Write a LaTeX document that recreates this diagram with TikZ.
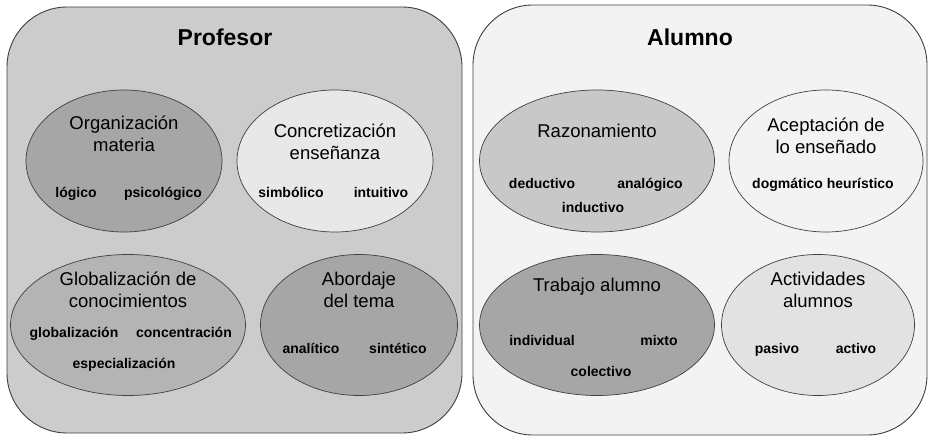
\documentclass[tikz,border=0pt]{standalone}
\usepackage{fontspec}
\setmainfont{Liberation Sans}
\usetikzlibrary{shapes.geometric}

\definecolor{boxdark}{HTML}{CCCCCC}
\definecolor{boxlight}{HTML}{F3F3F3}
\definecolor{greyA}{HTML}{A6A6A6}
\definecolor{greyB}{HTML}{B4B4B4}
\definecolor{greyC}{HTML}{C8C8C8}
\definecolor{greyD}{HTML}{E2E2E2}
\definecolor{greyE}{HTML}{E8E8E8}
\definecolor{rim}{HTML}{404040}

\begin{document}
\begin{tikzpicture}[x=1pt, y=-1pt,
  panel/.style={draw=rim, line width=0.9pt, rounded corners=60pt},
  blob/.style={ellipse, draw=rim, line width=0.7pt, inner sep=0pt},
  head/.style={font=\fontsize{23}{28}\selectfont\bfseries},
  topic/.style={align=center, font=\fontsize{18.5}{22}\selectfont},
  item/.style={font=\fontsize{14}{16}\selectfont\bfseries, text height=10.5pt, text depth=3pt}]

\useasboundingbox (0,0) rectangle (928,438);

\draw[panel, fill=boxdark] (7,7) rectangle (462,433);
\draw[panel, fill=boxlight] (473,5) rectangle (927,435);

\node[head] (prof) at (225,37) {Profesor};
\node[head] (alum) at (690,37) {Alumno};

% Profesor
\node[blob, fill=greyA, minimum width=196pt, minimum height=142pt] (org) at (124,161) {};
\node[topic] (orgT) at (124,134) {Organización\\materia};
\node[item] (orgA) at (76,194) {lógico};
\node[item] (orgB) at (163,194) {psicológico};

\node[blob, fill=greyE, minimum width=196pt, minimum height=142pt] (con) at (335,161) {};
\node[topic] (conT) at (335,142) {Concretización\\enseñanza};
\node[item] (conA) at (291,194) {simbólico};
\node[item] (conB) at (381,194) {intuitivo};

\node[blob, fill=greyB, minimum width=235pt, minimum height=141pt] (glo) at (128,325) {};
\node[topic] (gloT) at (128,290) {Globalización de\\conocimientos};
\node[item] (gloA) at (74,334) {globalización};
\node[item] (gloB) at (184,334) {concentración};
\node[item] (gloC) at (124,365) {especialización};

\node[blob, fill=greyA, minimum width=197pt, minimum height=141pt] (abo) at (359,325) {};
\node[topic] (aboT) at (359,290) {Abordaje\\del tema};
\node[item] (aboA) at (311,350) {analítico};
\node[item] (aboB) at (398,350) {sintético};

% Alumno
\node[blob, fill=greyC, minimum width=235pt, minimum height=142pt] (raz) at (597,161) {};
\node[topic] (razT) at (597,131) {Razonamiento};
\node[item] (razA) at (542,185) {deductivo};
\node[item] (razB) at (650,185) {analógico};
\node[item] (razC) at (593,209) {inductivo};

\node[blob, fill=boxlight, minimum width=194pt, minimum height=142pt] (ace) at (826,161) {};
\node[topic] (aceT) at (826,136) {Aceptación de\\lo enseñado};
\node[item] (aceA) at (823,185) {dogmático heurístico};

\node[blob, fill=greyA, minimum width=235pt, minimum height=141pt] (tra) at (597,325) {};
\node[topic] (traT) at (597,287) {Trabajo alumno};
\node[item] (traA) at (542,342) {individual};
\node[item] (traB) at (659,342) {mixto};
\node[item] (traC) at (601,373) {colectivo};

\node[blob, fill=greyD, minimum width=193pt, minimum height=141pt] (act) at (818,325) {};
\node[topic] (actT) at (818,290) {Actividades\\alumnos};
\node[item] (actA) at (777,350) {pasivo};
\node[item] (actB) at (856,350) {activo};

\end{tikzpicture}
\end{document}
